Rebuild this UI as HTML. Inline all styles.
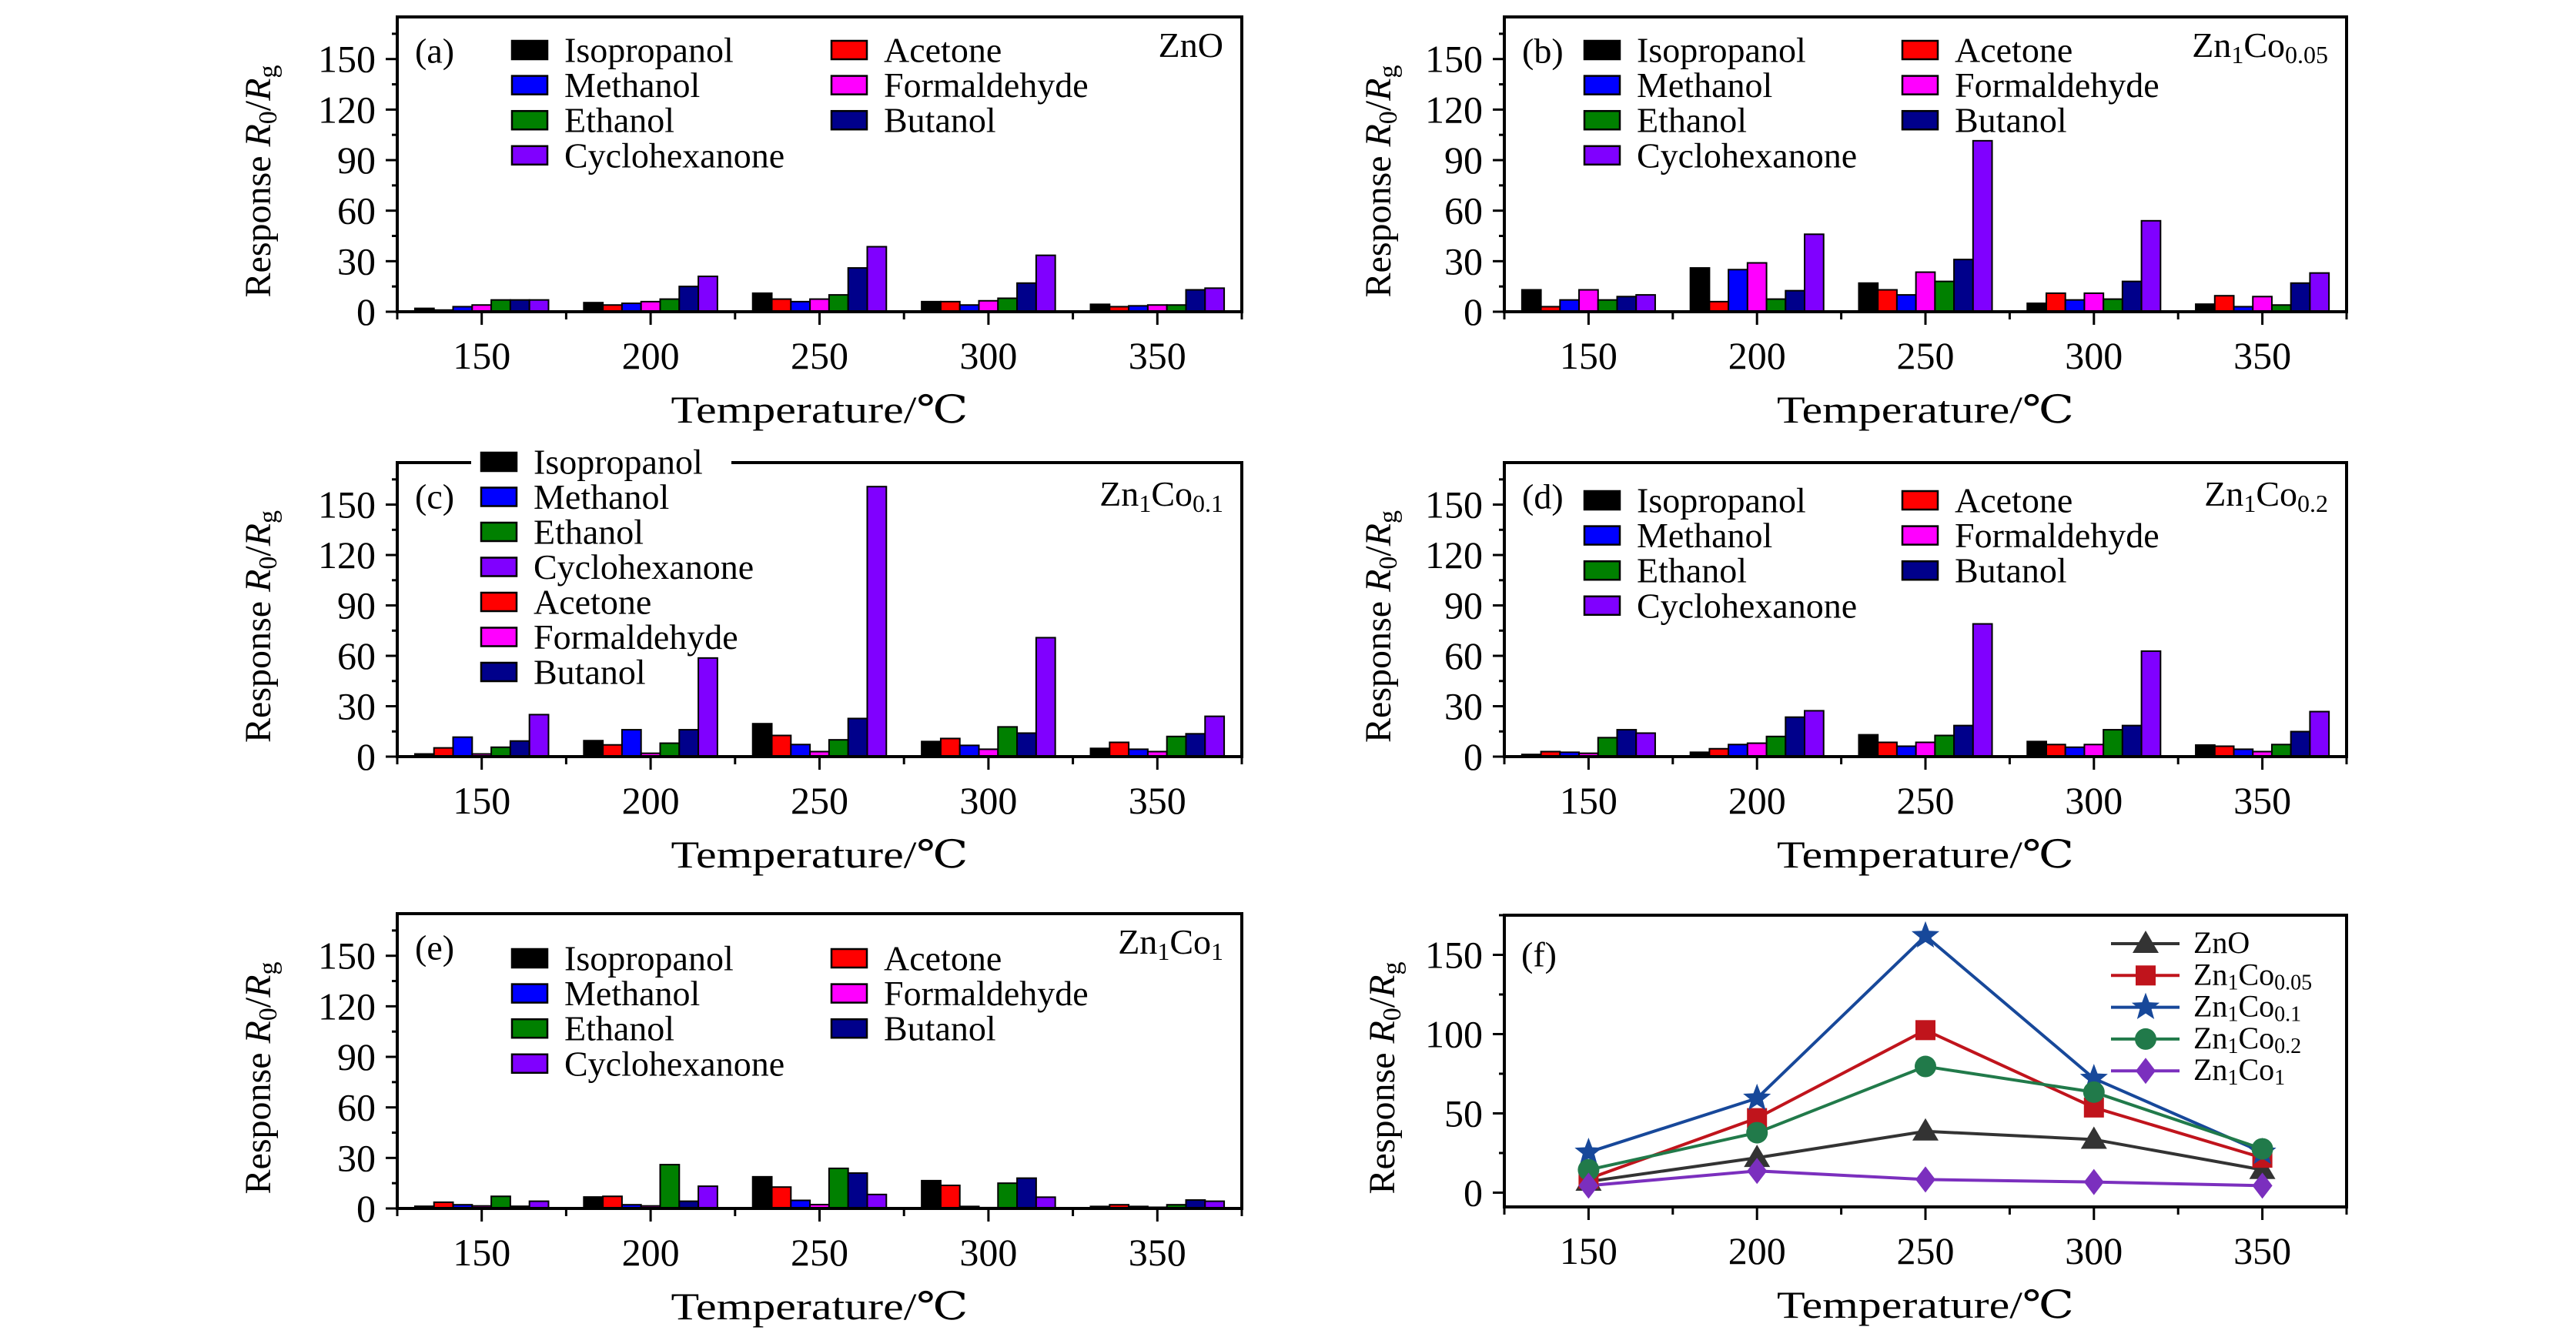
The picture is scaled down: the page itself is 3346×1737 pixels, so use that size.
<!DOCTYPE html>
<html><head><meta charset="utf-8"><title>Gas response charts</title>
<style>
html,body{margin:0;padding:0;background:#fff;}
svg{display:block;}
text{font-family:"Liberation Serif","DejaVu Serif","Noto Serif CJK SC",serif;fill:#000;}
</style></head>
<body>
<svg id="fig" width="3346" height="1737" viewBox="0 0 3346 1737" xmlns="http://www.w3.org/2000/svg"></svg>
<script>
// ---------- shared data ----------
const categories = [150, 200, 250, 300, 350];
const gasNames = ["Isopropanol","Acetone","Methanol","Formaldehyde","Ethanol","Butanol","Cyclohexanone"];
const gasColors = ["#000000","#ff0000","#0000ff","#ff00ff","#008000","#00008b","#8000ff"];
const barTicks = [0,30,60,90,120,150];
const lineTicks = [0,50,100,150];

// panel (a) ZnO — rows follow gasNames order
const valuesA = [
  [2,5.4,11,6,4.4],
  [1,4,7.5,6,3],
  [3,5,6,4,3.5],
  [4,6,7.5,6.5,4],
  [7,7.5,10,8,4],
  [7,15,26,17,13],
  [7,21,38.6,33.5,14]
];
// panel (b) Zn1Co0.05
const valuesB = [
  [13,26,17,5,4.5],
  [3,6,13,11,9.5],
  [7,25,10,7,3],
  [13,29,23.5,11,9],
  [7,7.5,18,7.5,4],
  [9,12.5,31,18,17],
  [10,46,101.5,54,23]
];
// panel (c) Zn1Co0.1
const valuesC = [
  [1.6,9.5,19.6,9,4.9],
  [5.2,7,12.6,10.8,8.5],
  [11.6,16,7.2,6.7,4.4],
  [1.6,2,3,4.4,3],
  [5.6,8,10,17.7,12],
  [9.3,16,22.7,14,13.6],
  [25,58.7,160.7,70.8,24]
];
// panel (d) Zn1Co0.2
const valuesD = [
  [1.3,2.6,13,9,6.9],
  [3,4.7,8.5,7.2,6.2],
  [2.6,7.2,6.2,5.6,4.4],
  [2,8,8.5,7.2,3],
  [11.3,12,12.6,16,7.2],
  [16,23.5,18.5,18.5,14.9],
  [14,27.3,79,62.8,26.8]
];
// panel (e) Zn1Co1
const valuesE = [
  [1.3,6.8,18.8,16.5,1.2],
  [3.7,7.2,12.7,13.7,2.2],
  [2.2,2.2,4.8,1.2,1.2],
  [1.5,1.5,2.3,0.5,0.7],
  [7.2,26,23.8,15,2.2],
  [1.3,4.3,21,18,5],
  [4.3,13.2,8.3,6.7,4.3]
];
// panel (f) line series
const lineZnO  = [7,22,38.7,33.5,14.4];
const lineCo005 = [8.8,47,102.5,53.7,22];
const lineCo01 = [25.5,59.5,162,72,25.5];
const lineCo02 = [14.4,37.8,79.6,63.4,27.6];
const lineCo1  = [4.4,13.7,8.3,6.7,4.4];

const NS = "http://www.w3.org/2000/svg";
const svg = document.getElementById("fig");
function mk(tag, attrs, parent){
  const e = document.createElementNS(NS, tag);
  for (const k in attrs) e.setAttribute(k, attrs[k]);
  (parent||svg).appendChild(e);
  return e;
}
function rich(parent, x, y, parts, size, anchor){
  const t = mk("text",{x:x,y:y,"font-size":size,"text-anchor":anchor||"start","dominant-baseline":"central"},parent);
  let shifted = false;
  parts.forEach(p=>{
    const s = document.createElementNS(NS,"tspan");
    s.textContent = p[0];
    if (p[1]==="i") s.setAttribute("font-style","italic");
    if (p[1]==="sub"){ s.setAttribute("font-size", Math.round(size*0.7)); s.setAttribute("dy", Math.round(size*0.28)); shifted=true; }
    else if (shifted){ s.setAttribute("dy", -Math.round(size*0.28)); shifted=false; }
    t.appendChild(s);
  });
  return t;
}
function zn(sub){ return sub===null ? [["ZnO",""]] : [["Zn",""],["1","sub"],["Co",""],[sub,"sub"]]; }

function makeAxes(g, L, T, R, B, yMin, yMax, ticks, minorStep, labelX, labelY){
  const xS = v => L + (v-125)/250*(R-L);
  const yS = v => B - (v-yMin)/(yMax-yMin)*(B-T);
  for (let v = Math.ceil(yMin/minorStep)*minorStep; v <= yMax; v += minorStep){
    const major = ticks.indexOf(v) >= 0;
    const tk = mk("line",{x1:L-(major?15:7),x2:L,y1:yS(v),y2:yS(v),stroke:"#000","stroke-width":3},g);
    
    
  }
  ticks.forEach(v=>{
    const t = mk("text",{x:L-28,y:yS(v),"font-size":50,"text-anchor":"end","dominant-baseline":"central"},g);
    t.textContent = v;
    
    
  });
  categories.forEach(c=>{
    const tk = mk("line",{x1:xS(c),x2:xS(c),y1:B,y2:B+17,stroke:"#000","stroke-width":3},g);
    
    
    const t = mk("text",{x:xS(c),y:B+57,"font-size":50,"text-anchor":"middle","dominant-baseline":"central"},g);
    t.textContent = c;
    
    
  });
  for (let i=0;i<=5;i++){
    const xv = 125 + i*50;
    const tk = mk("line",{x1:xS(xv),x2:xS(xv),y1:B,y2:B+10,stroke:"#000","stroke-width":3},g);
    
    
  }
  const xt = mk("text",{x:(L+R)/2,y:B+127,"font-size":50,"text-anchor":"middle","dominant-baseline":"central",textLength:386,lengthAdjust:"spacingAndGlyphs"},g);
  xt.textContent = "Temperature/℃";
  
  
  const yg = mk("g",{transform:`translate(${labelX},${labelY}) rotate(-90)`},g);
  const yt = rich(yg, 0, 0, [["Response ",""],["R","i"],["0","sub"],["/",""],["R","i"],["g","sub"]], 48, "middle");
  
  
  return {xS, yS};
}
function frame(g, L, T, R, B, gap){
  if (!gap){
    const f = mk("rect",{x:L,y:T,width:R-L,height:B-T,fill:"none",stroke:"#000","stroke-width":4},g);
    
    
  } else {
    const f = mk("path",{d:`M${gap[0]},${T} L${L},${T} L${L},${B} L${R},${B} L${R},${T} L${gap[1]},${T}`,fill:"none",stroke:"#000","stroke-width":4},g);
    
    
  }
}

function barPanel(id, L, T, R, B, values, letter, titleSub, legendCfg, gap, labelX){
  const g = mk("g",{});
  
  
  const ax = makeAxes(g, L, T, R, B, 0, 175, barTicks, 15, labelX, (T+B)/2+22);
  const catW = (R-L)/5;
  const bw = catW*0.113;
  values.forEach((series, si)=>{
    series.forEach((v, ci)=>{
      const cx = ax.xS(categories[ci]);
      const x = cx - 3.5*bw + si*bw;
      const y = ax.yS(v);
      const r = mk("rect",{x:x,y:y,width:bw,height:ax.yS(0)-y,fill:gasColors[si],stroke:"#000","stroke-width":2},g);
      
      
    });
  });
  frame(g, L, T, R, B, gap);
  const pl = mk("text",{x:L+23,y:T+44,"font-size":46,"dominant-baseline":"central"},g);
  pl.textContent = "(" + letter + ")";
  
  
  const tt = rich(g, R-24, T+(titleSub==="0.1"||titleSub==="0.2"?40:36), zn(titleSub), 46, "end");
  
  
  legendCfg.items.forEach((pos, k)=>{
    const gi = pos[0], sx = pos[1], sy = pos[2];
    const sw = mk("rect",{x:sx,y:sy-12,width:46,height:24,fill:gasColors[gi],stroke:"#000","stroke-width":2.5},g);
    
    
    const t = mk("text",{x:sx+68,y:sy,"font-size":46,"dominant-baseline":"central"},g);
    t.textContent = gasNames[gi];
    
    
  });
}

function twoColLegend(L, T, off1, off2, top){
  const rows = [0,1,2,3].map(i=>T+top+i*45.6);
  return {items:[
    [0,L+off1,rows[0]],[2,L+off1,rows[1]],[4,L+off1,rows[2]],[6,L+off1,rows[3]],
    [1,L+off2,rows[0]],[3,L+off2,rows[1]],[5,L+off2,rows[2]]
  ]};
}

barPanel("a", 516, 22, 1613, 405, valuesA, "a", null, twoColLegend(516,22,149,564,43), null, 335);
barPanel("b", 1954, 22, 3048, 405, valuesB, "b", "0.05", twoColLegend(1954,22,104,517,43), null, 1790);
(function(){
  const order=[0,2,4,6,1,3,5];
  const items = order.map((gi,i)=>[gi, 625, 600+i*45.5]);
  barPanel("c", 516, 601, 1613, 983, valuesC, "c", "0.1", {items:items}, [612,950], 335);
})();
barPanel("d", 1954, 601, 3048, 983, valuesD, "d", "0.2", twoColLegend(1954,601,104,517,49), null, 1790);
barPanel("e", 516, 1187, 1613, 1570, valuesE, "e", "1", twoColLegend(516,1187,149,564,58), null, 335);

// (f) line chart
(function(){
  const L=1954,T=1189,R=3048,B=1568;
  const g = mk("g",{});
  
  
  const ax = makeAxes(g, L, T, R, B, -9, 175, lineTicks, 25, 1795, (T+B)/2+22);
  const series = [
    {name:"ZnO", sub:null, data:lineZnO, color:"#333333", marker:"tri"},
    {name:"Zn1Co0.05", sub:"0.05", data:lineCo005, color:"#c0141c", marker:"sq"},
    {name:"Zn1Co0.1", sub:"0.1", data:lineCo01, color:"#17489a", marker:"star"},
    {name:"Zn1Co0.2", sub:"0.2", data:lineCo02, color:"#217a4a", marker:"circ"},
    {name:"Zn1Co1", sub:"1", data:lineCo1, color:"#7b2fbe", marker:"dia"}
  ];
  function marker(type, x, y, color){
    let e;
    if (type==="tri") e = mk("path",{d:`M${x},${y-17} L${x+17},${y+12} L${x-17},${y+12} Z`,fill:color},g);
    else if (type==="sq") e = mk("rect",{x:x-13,y:y-13,width:26,height:26,fill:color},g);
    else if (type==="circ") e = mk("circle",{cx:x,cy:y,r:14,fill:color},g);
    else if (type==="dia") e = mk("path",{d:`M${x},${y-17} L${x+13},${y} L${x},${y+17} L${x-13},${y} Z`,fill:color},g);
    else {
      let d="";
      for (let i=0;i<10;i++){
        const r = i%2===0 ? 19 : 8;
        const a = -Math.PI/2 + i*Math.PI/5;
        d += (i===0?"M":"L") + (x + r*Math.cos(a)) + "," + (y + r*Math.sin(a));
      }
      e = mk("path",{d:d+"Z",fill:color},g);
    }
    return e;
  }
  series.forEach(s=>{
    const pts = s.data.map((v,i)=>ax.xS(categories[i])+","+ax.yS(v)).join(" ");
    const pl = mk("polyline",{points:pts,fill:"none",stroke:s.color,"stroke-width":4},g);
    
    
  });
  series.forEach(s=>{
    s.data.forEach((v,i)=>{
      const m = marker(s.marker, ax.xS(categories[i]), ax.yS(v), s.color);
      
      
    });
  });
  frame(g, L, T, R, B, null);
  const pl = mk("text",{x:L+22,y:T+51,"font-size":46,"dominant-baseline":"central"},g);
  pl.textContent = "(f)";
  
  
  series.forEach((s,k)=>{
    const y = 1226 + k*41.3;
    const ln = mk("line",{x1:2742,x2:2831,y1:y,y2:y,stroke:s.color,"stroke-width":4},g);
    
    
    const m = marker(s.marker, 2787, y, s.color);
    
    
    const t = rich(g, 2849, y-2, zn(s.sub), 40, "start");
    
    
  });
})();
</script>
</body></html>
